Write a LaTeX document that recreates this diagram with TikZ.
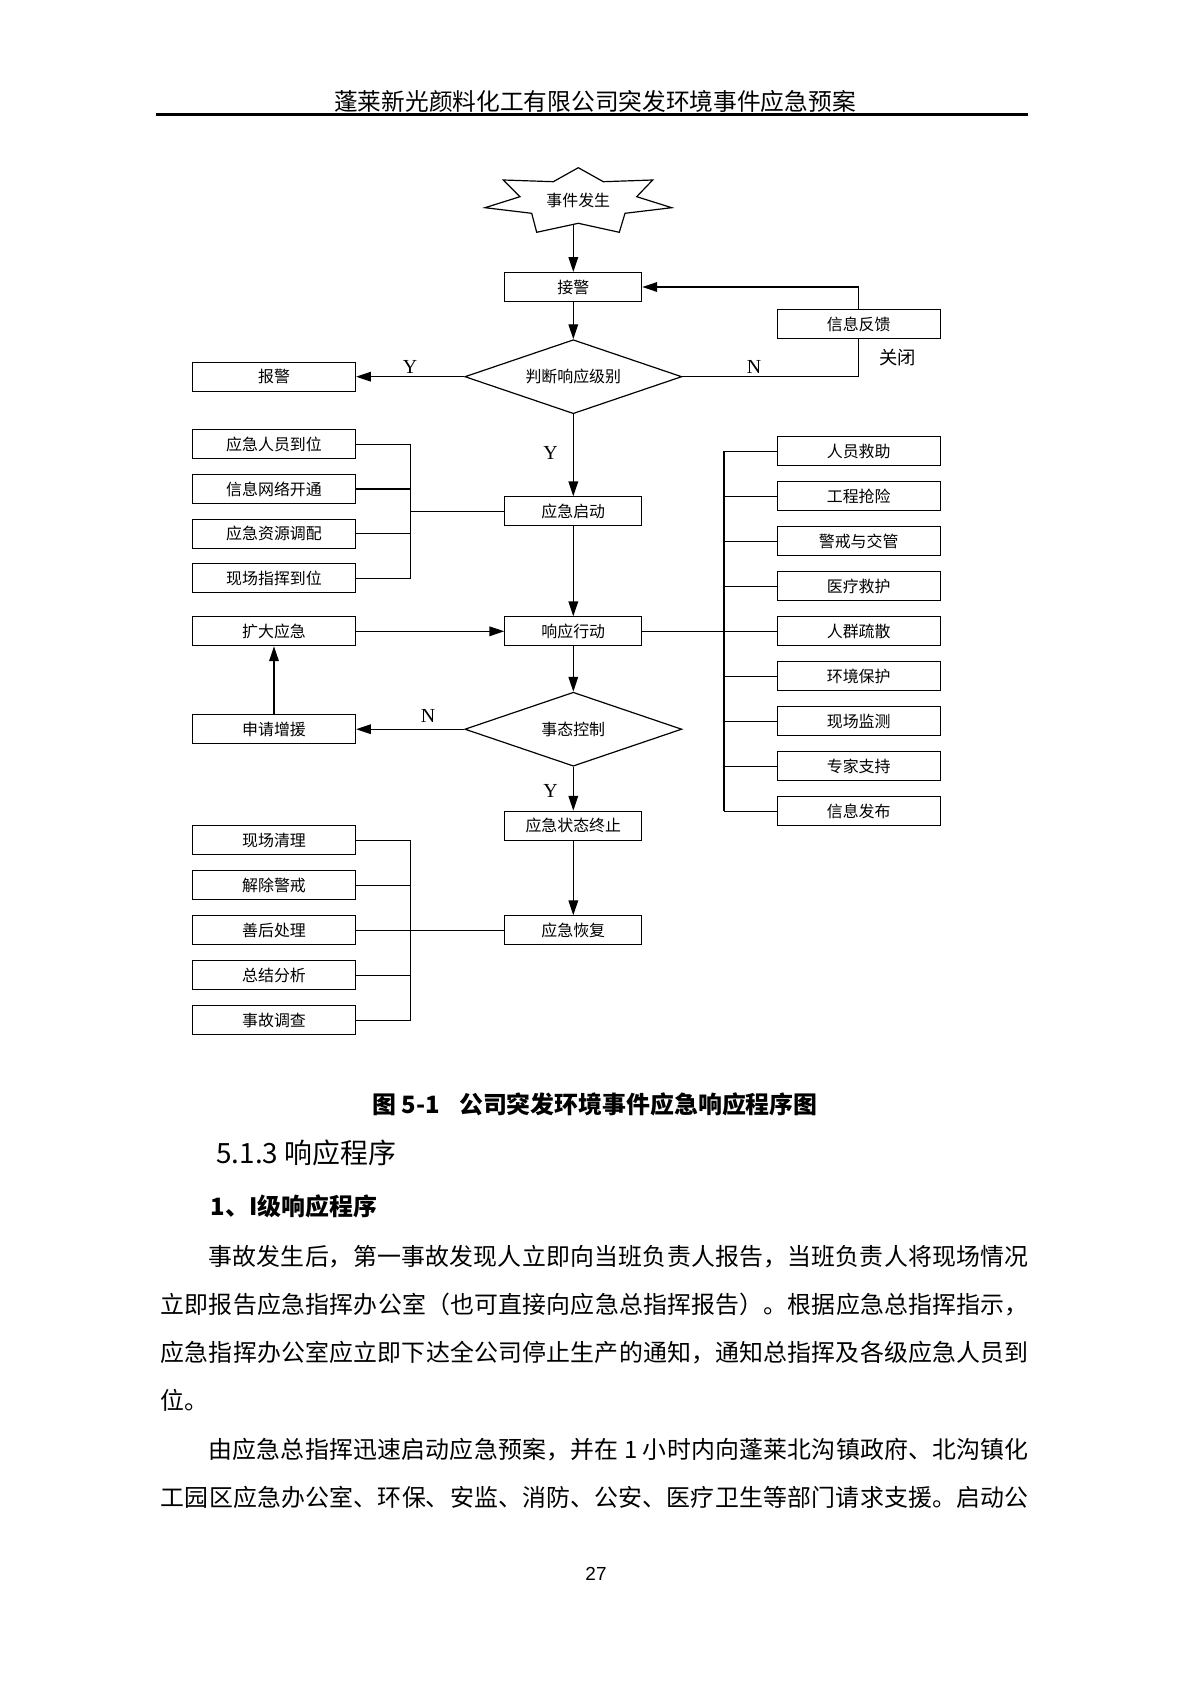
\documentclass[tikz,border=0pt]{standalone}
\usepackage{fontspec}
\setmainfont{Noto Sans CJK SC}
\newfontfamily\ynfont{Liberation Serif}
\newfontfamily\numfont{Liberation Sans}
\XeTeXlinebreaklocale "zh"
\XeTeXlinebreakskip=0pt plus 1pt minus 0.2pt
\usetikzlibrary{shapes.geometric,arrows.meta}

\def\pxu{0.17647mm}

\tikzset{
	box/.style={draw, line width=0.6pt, minimum height=29*\pxu, inner sep=0pt,
		font=\fontsize{8}{10}\selectfont},
	sidebox/.style={box, minimum width=163*\pxu},
	mainbox/.style={box, minimum width=137*\pxu},
	decision/.style={draw, diamond, aspect=2.93, line width=0.6pt,
		minimum width=217*\pxu, minimum height=74*\pxu, inner sep=0pt,
		font=\fontsize{8}{10}\selectfont},
	flow/.style={line width=0.6pt, -{Triangle[length=2.6mm,width=1.7mm]}},
	link/.style={line width=0.6pt},
	yn/.style={font=\ynfont\fontsize{10}{12}\selectfont},
}

\begin{document}
\begin{tikzpicture}[x=\pxu, y=-\pxu]

% page %{{{2

	\fill[white] (0,0) rectangle (1190,1683);
	\useasboundingbox (0,0) rectangle (1190,1683);

% parameters %{{{2

	\def\colL{274}
	\def\colM{573.3}
	\def\colR{858.7}

% header %{{{2

	\node[font=\fontsize{11.9}{14}\selectfont] (title) at (595,101.7)
		{蓬莱新光颜料化工有限公司突发环境事件应急预案};
	\draw[line width=1.3pt] (155.5,114.3) -- (1028,114.3);

% bracket coordinates %{{{2

	\coordinate (lbx) at (410.7,0);
	\coordinate (rbx) at (724,0);

% star %{{{2

	\draw[line width=0.6pt] (578.3,167.7) -- (603.3,181.7) -- (652.7,180)
		-- (636.7,196.7) -- (671.7,207.7) -- (625,213.3) -- (619.3,232.3)
		-- (578.3,223.3) -- (536.7,232.3) -- (531.7,213.3) -- (485,207.7)
		-- (520,196.7) -- (503.3,180) -- (553.3,181.7) -- cycle;
	\node[font=\fontsize{8}{10}\selectfont] (shijian) at (578.3,200) {事件发生};
	\coordinate (starfoot) at (\colM,224.4);

% main column %{{{2

	\node[mainbox] (jiejing) at (\colM,287) {接警};
	\node[decision] (panduan) at (\colM,376.7) {判断响应级别};
	\node[mainbox] (qidong) at (\colM,511.3) {应急启动};
	\node[mainbox] (xingdong) at (\colM,631.3) {响应行动};
	\node[decision] (kongzhi) at (\colM,729.2) {事态控制};
	\node[mainbox] (zhongzhi) at (\colM,825.7) {应急状态终止};
	\node[mainbox] (huifu) at (\colM,930.3) {应急恢复};

% side boxes %{{{2

	\node[sidebox] (fankui) at (\colR,324.3) {信息反馈};
	\node[font=\fontsize{9.2}{11}\selectfont] (guanbi) at (897.4,357.3) {关闭};
	\node[sidebox] (baojing) at (\colL,376.7) {报警};
	\node[sidebox] (kuoda) at (\colL,631.3) {扩大应急};
	\node[sidebox] (zengyuan) at (\colL,729.2) {申请增援};

	\foreach \t [count=\i] in {应急人员到位,信息网络开通,应急资源调配,现场指挥到位} {
		\node[sidebox] (A\i) at (\colL,{444.3+44.67*(\i-1)}) {\t};
	}
	\foreach \t [count=\i] in {人员救助,工程抢险,警戒与交管,医疗救护,人群疏散,
		环境保护,现场监测,专家支持,信息发布} {
		\node[sidebox] (R\i) at (\colR,{451.3+45*(\i-1)}) {\t};
	}
	\foreach \t [count=\i] in {现场清理,解除警戒,善后处理,总结分析,事故调查} {
		\node[sidebox] (H\i) at (\colL,{840.3+45*(\i-1)}) {\t};
	}

% arrows %{{{2

	\draw[flow] (starfoot) -- (jiejing.north);
	\draw[flow] (jiejing) -- (panduan);
	\draw[flow] (panduan.west) -- (baojing.east);
	\draw[link] (panduan.east) -- (panduan.east -| fankui.south) -- (fankui.south);
	\draw[flow] (fankui.north) |- (jiejing.east);
	\draw[flow] (panduan) -- (qidong);
	\draw[flow] (qidong) -- (xingdong);
	\draw[flow] (kuoda.east) -- (xingdong.west);
	\draw[flow] (xingdong) -- (kongzhi);
	\draw[flow] (kongzhi.west) -- (zengyuan.east);
	\draw[flow] (zengyuan) -- (kuoda);
	\draw[flow] (kongzhi) -- (zhongzhi);
	\draw[flow] (zhongzhi) -- (huifu);

% brackets %{{{2

	\foreach \i in {1,...,4} { \draw[link] (A\i.east) -- (A\i.east -| lbx); }
	\draw[link] (A1.east -| lbx) -- (A4.east -| lbx);
	\draw[link] (qidong.west) -- (qidong.west -| lbx);

	\foreach \i in {1,...,9} { \draw[link] (R\i.west) -- (R\i.west -| rbx); }
	\draw[link] (R1.west -| rbx) -- (R9.west -| rbx);
	\draw[link] (xingdong.east) -- (xingdong.east -| rbx);

	\foreach \i in {1,...,5} { \draw[link] (H\i.east) -- (H\i.east -| lbx); }
	\draw[link] (H1.east -| lbx) -- (H5.east -| lbx);
	\draw[link] (huifu.west) -- (huifu.west -| lbx);

% Y / N labels %{{{2

	\node[yn] (y1) at (410,367.3) {Y};
	\node[yn] (n1) at (754,367.3) {N};
	\node[yn] (y2) at (550.5,453.3) {Y};
	\node[yn] (n2) at (428,716) {N};
	\node[yn] (y3) at (550.5,790.7) {Y};

% caption and text %{{{2

	\node[font=\bfseries\fontsize{12}{14}\selectfont] (caption) at (595,1104)
		{图 5-1\hspace{0.8em}公司突发环境事件应急响应程序图};
	\node[anchor=west, inner sep=0pt, font=\fontsize{14}{17}\selectfont] (sec) at (216,1153.3)
		{5.1.3 响应程序};
	\node[anchor=west, inner sep=0pt, font=\bfseries\fontsize{12}{14}\selectfont] (subsec) at (210.3,1206.7)
		{1、I级响应程序};

	\node[anchor=base west, text width=868*\pxu, align=justify, inner sep=0pt,
		font=\fontsize{12}{24.2}\selectfont] (body) at (160.3,1265.2) {%
		\hspace*{2em}事故发生后，第一事故发现人立即向当班负责人报告，当班负责人将现场情况\linebreak
		立即报告应急指挥办公室（也可直接向应急总指挥报告）。根据应急总指挥指示，\linebreak
		应急指挥办公室应立即下达全公司停止生产的通知，通知总指挥及各级应急人员到\linebreak
		位。\par
		\hspace*{2em}由应急总指挥迅速启动应急预案，并在 1 小时内向蓬莱北沟镇政府、北沟镇化\linebreak
		工园区应急办公室、环保、安监、消防、公安、医疗卫生等部门请求支援。启动公\parfillskip=0pt\par};

% page number %{{{2

	\node[font=\numfont\fontsize{9.5}{11}\selectfont] (pageno) at (596,1574.3) {27};

% closing %{{{2

\end{tikzpicture}
\end{document}
